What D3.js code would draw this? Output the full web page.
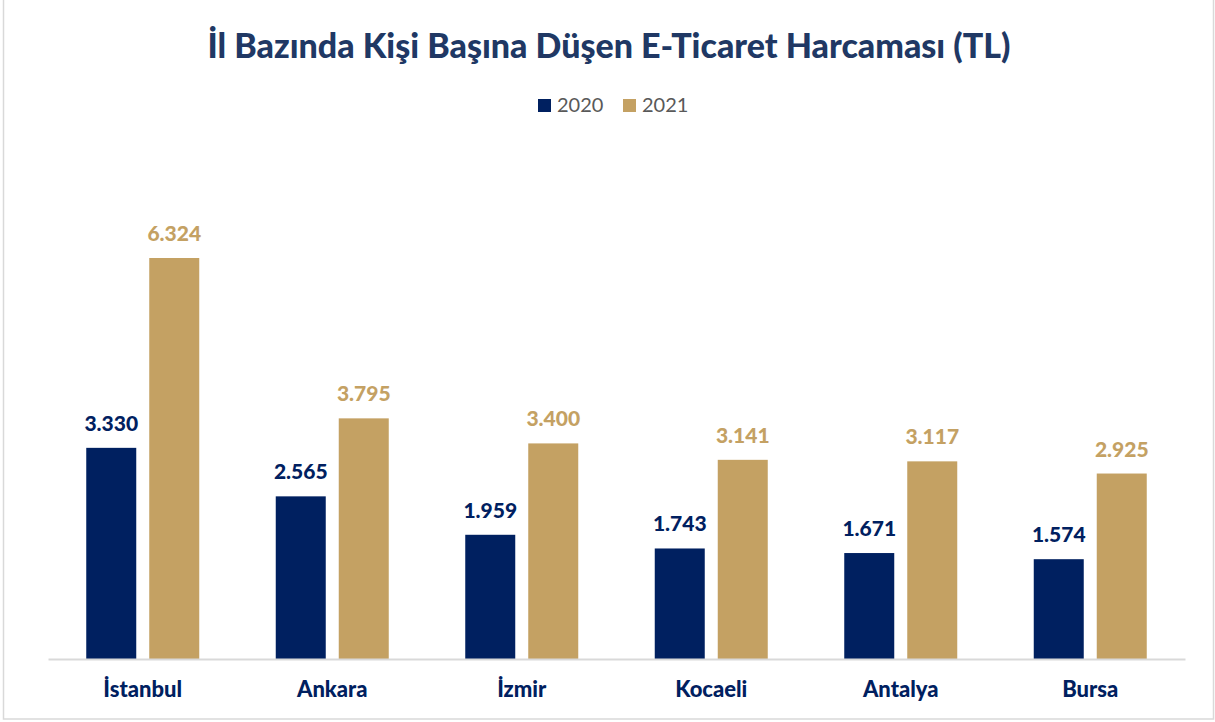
<!DOCTYPE html>
<html>
<head>
<meta charset="utf-8">
<script src="https://cdn.jsdelivr.net/npm/d3@7"></script>
<style>
  html, body { margin: 0; padding: 0; background: #fff; }
  svg { display: block; font-family: Lato, "Open Sans", sans-serif; }
</style>
</head>
<body>
<svg id="chart" width="1215" height="722"></svg>
<script>
const cities = ["İstanbul", "Ankara", "İzmir", "Kocaeli", "Antalya", "Bursa"];
const years = ["2020", "2021"];
const values2020 = [3330, 2565, 1959, 1743, 1671, 1574];
const values2021 = [6324, 3795, 3400, 3141, 3117, 2925];
const colors = ["#002060", "#C4A163"];
const labelColors = ["#002060", "#C4A163"];

const svg = d3.select("#chart");
const w = +svg.attr("width");
const h = +svg.attr("height");

// plot area
const x0 = 48, x1 = 1185; // axis extent
const baseY = 659;

// chart border (top edge sits outside the image)
svg.append("rect")
    .attr("x", 3.5).attr("y", -2)
    .attr("width", 1210).attr("height", 721)
    .attr("fill", "none")
    .attr("stroke", "#D9D9D9")
    .attr("stroke-width", 1.5);

const xScale = d3.scaleBand()
    .domain(cities)
    .range([x0, x1]);

const barW = 50, barGap = 13;
const xSub = d3.scaleOrdinal()
    .domain(years)
    .range([-(barW + barGap / 2), barGap / 2]);

const yScale = d3.scaleLinear()
    .domain([0, 7000])
    .range([baseY, baseY - 7000 * 0.06341]);

const rows = cities.map((c, i) => ({
    city: c,
    vals: [
        { year: years[0], v: values2020[i], k: 0 },
        { year: years[1], v: values2021[i], k: 1 }
    ]
}));

const groups = svg.selectAll("g.grp")
    .data(rows)
    .enter()
    .append("g")
    .attr("class", "grp")
    .attr("transform", d => "translate(" + (xScale(d.city) + xScale.bandwidth() / 2) + ",0)");

groups.selectAll("rect")
    .data(d => d.vals)
    .enter()
    .append("rect")
    .attr("x", d => xSub(d.year))
    .attr("y", d => yScale(d.v))
    .attr("width", barW)
    .attr("height", d => baseY - yScale(d.v))
    .attr("fill", d => colors[d.k]);

// data labels
groups.selectAll("text.val")
    .data(d => d.vals)
    .enter()
    .append("text")
    .attr("class", "val")
    .attr("x", d => xSub(d.year) + barW / 2)
    .attr("y", d => yScale(d.v) - 17)
    .attr("text-anchor", "middle")
    .attr("font-size", 21)
    .attr("font-weight", 900)
    .attr("fill", d => labelColors[d.k])
    .text(d => d3.format(",")(d.v).replace(/,/g, "."));

// x axis
const xAxis = d3.axisBottom(xScale).tickSize(0).tickPadding(22);
const gx = svg.append("g")
    .attr("transform", "translate(0," + baseY + ")")
    .call(xAxis);
gx.select(".domain").attr("stroke", "#D9D9D9").attr("stroke-width", 2);
gx.selectAll("text")
    .attr("font-family", "Lato, sans-serif")
    .attr("font-size", 22)
    .attr("font-weight", 900)
    .attr("fill", "#002060");

// title
svg.append("text")
    .attr("x", 609)
    .attr("y", 58)
    .attr("text-anchor", "middle")
    .attr("font-size", 34)
    .attr("font-weight", 900)
    .attr("fill", "#203864")
    .text("İl Bazında Kişi Başına Düşen E-Ticaret Harcaması (TL)");

// legend
const legendX = [538, 623];
const leg = svg.selectAll("g.leg")
    .data(years)
    .enter()
    .append("g")
    .attr("class", "leg")
    .attr("transform", (d, i) => "translate(" + legendX[i] + ",99)");
leg.append("rect")
    .attr("width", 13).attr("height", 13)
    .attr("fill", (d, i) => colors[i]);
leg.append("text")
    .attr("x", 19)
    .attr("y", 13)
    .attr("font-size", 20)
    .attr("fill", "#595959")
    .text(d => d);
</script>
</body>
</html>
